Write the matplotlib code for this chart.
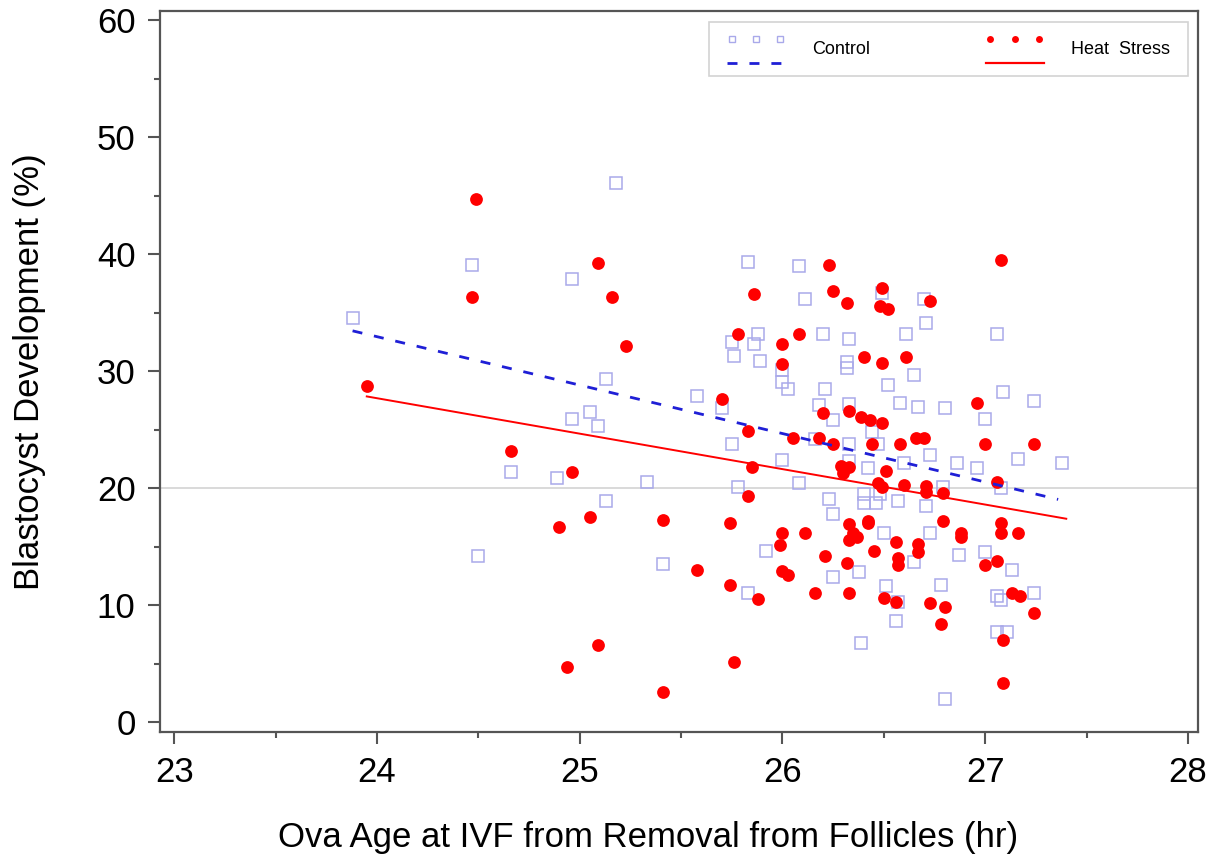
import numpy as np
import matplotlib
matplotlib.use("Agg")
import matplotlib.pyplot as plt
from matplotlib.lines import Line2D
from matplotlib.legend_handler import HandlerBase
from matplotlib.ticker import MultipleLocator

plt.rcParams['font.family'] = ['Liberation Sans', 'DejaVu Sans']

# Control (open squares)
ctrl_x = [23.88, 24.47, 24.50, 24.66, 24.89, 25.33, 25.13, 25.41, 24.96, 25.09,
          25.05, 25.13, 24.96, 25.18, 25.83, 26.08, 26.11, 26.49, 26.70, 26.71,
          26.61, 25.88, 25.75, 25.86, 26.20, 26.33, 25.76, 25.89, 26.00, 26.32,
          26.32, 26.65, 26.52, 26.00, 26.03, 26.21, 25.58, 25.70, 26.18, 26.33,
          26.58, 26.67, 26.80, 26.25, 26.44, 26.16, 26.33, 26.47, 25.75, 26.73,
          26.86, 26.00, 26.33, 26.42, 26.60, 25.78, 26.08, 26.79, 26.23, 26.40,
          26.40, 26.46, 26.48, 26.57, 26.71, 26.25, 26.50, 26.73, 25.92, 26.65,
          26.25, 26.38, 25.83, 26.51, 26.57, 26.56, 26.78, 26.39, 26.80, 26.87,
          27.06, 27.09, 27.24, 27.00, 26.96, 27.16, 27.38, 27.08, 27.00, 27.13,
          27.06, 27.08, 27.24, 27.06, 27.11]
ctrl_y = [34.5, 39.1, 14.2, 21.4, 20.9, 20.5, 18.9, 13.5, 25.9, 25.3,
          26.5, 29.3, 37.9, 46.1, 39.3, 39.0, 36.2, 36.7, 36.2, 34.1,
          33.2, 33.2, 32.5, 32.3, 33.2, 32.7, 31.3, 30.9, 30.1, 30.8,
          30.3, 29.7, 28.8, 29.1, 28.5, 28.5, 27.9, 26.8, 27.1, 27.2,
          27.3, 26.9, 26.8, 25.8, 24.8, 24.2, 23.8, 23.8, 23.8, 22.8,
          22.1, 22.4, 22.3, 21.7, 22.1, 20.1, 20.4, 20.1, 19.1, 19.5,
          18.7, 18.7, 19.5, 18.9, 18.5, 17.8, 16.2, 16.2, 14.6, 13.7,
          12.4, 12.8, 11.0, 11.6, 10.3, 8.6, 11.7, 6.8, 2.0, 14.3,
          33.2, 28.2, 27.4, 25.9, 21.7, 22.5, 22.1, 20.0, 14.5, 13.0,
          10.8, 10.4, 11.0, 7.7, 7.7]

# Heat stress (filled dots)
heat_x = [24.49, 25.09, 24.47, 25.16, 25.23, 23.95, 24.66, 24.96, 25.05, 24.90,
          25.41, 25.09, 24.94, 25.41, 26.23, 25.86, 26.25, 26.49, 26.32, 26.48,
          26.52, 26.73, 25.78, 26.00, 26.08, 26.00, 26.40, 26.49, 26.61, 25.70,
          26.20, 26.33, 26.39, 26.43, 26.49, 25.83, 26.05, 26.18, 26.25, 26.44,
          26.58, 26.66, 26.70, 25.85, 26.29, 26.33, 26.30, 26.51, 26.47, 26.49,
          26.60, 26.71, 26.71, 25.83, 26.79, 25.74, 26.79, 26.00, 26.11, 26.33,
          26.35, 26.37, 26.33, 26.42, 26.42, 25.99, 26.21, 26.45, 26.56, 26.67,
          26.67, 26.57, 26.57, 26.32, 25.58, 26.00, 26.03, 25.74, 25.88, 26.16,
          26.33, 26.50, 26.56, 26.73, 26.80, 26.78, 25.76, 26.88, 26.88, 27.08,
          26.96, 27.00, 27.24, 27.06, 27.08, 27.08, 27.16, 27.00, 27.06, 27.13,
          27.17, 27.24, 27.09, 27.09]
heat_y = [44.7, 39.2, 36.3, 36.3, 32.1, 28.7, 23.2, 21.4, 17.5, 16.7,
          17.3, 6.6, 4.7, 2.6, 39.1, 36.6, 36.8, 37.1, 35.8, 35.6,
          35.3, 36.0, 33.2, 32.3, 33.2, 30.6, 31.2, 30.7, 31.2, 27.6,
          26.4, 26.6, 26.1, 25.8, 25.6, 24.9, 24.3, 24.3, 23.8, 23.8,
          23.8, 24.3, 24.3, 21.8, 21.9, 21.8, 21.3, 21.5, 20.4, 20.1,
          20.3, 20.2, 19.7, 19.3, 19.6, 17.0, 17.2, 16.2, 16.2, 16.9,
          16.2, 15.8, 15.6, 17.2, 17.0, 15.1, 14.2, 14.6, 15.4, 15.2,
          14.5, 14.0, 13.4, 13.6, 13.0, 12.9, 12.6, 11.7, 10.5, 11.0,
          11.0, 10.6, 10.3, 10.2, 9.8, 8.4, 5.1, 16.2, 15.8, 39.5,
          27.3, 23.8, 23.8, 20.5, 17.0, 16.2, 16.2, 13.4, 13.8, 11.0,
          10.8, 9.3, 7.0, 3.3]

# fitted lines: intercept, slope, x range
ctrl_fit = (132.3, -4.14)
ctrl_range = [23.88, 27.36]
heat_fit = (100.4, -3.03)
heat_range = [23.95, 27.40]

ref_level = 20

sq_color = '#a9a9ea'
dot_color = '#ff0000'
ctrl_line_color = '#1f1fd6'


class StackedHandler(HandlerBase):
    # markers on top, line underneath, like the SAS legend
    def create_artists(self, legend, orig_handle, xdescent, ydescent,
                       width, height, fontsize, trans):
        mk, ln = orig_handle
        x0 = -xdescent
        xs = np.linspace(x0 + width * 0.08, x0 + width * 0.92, 3)
        top = Line2D(xs, [height * 1.05 - ydescent] * 3, ls='none',
                     marker=mk.get_marker(), ms=mk.get_markersize(),
                     mfc=mk.get_markerfacecolor(), mec=mk.get_markeredgecolor(),
                     mew=mk.get_markeredgewidth(), transform=trans)
        bot = Line2D([x0, x0 + width], [-ydescent - height * 0.45] * 2,
                     color=ln.get_color(), lw=ln.get_linewidth(),
                     transform=trans)
        if ln.get_linestyle() == '--':
            bot.set_dashes((3.6, 4.3))
        return [top, bot]


fig = plt.figure(figsize=(12.22, 8.61), dpi=100)
ax = fig.add_axes([0.1309, 0.1498, 0.8495, 0.8374])

ax.axhline(ref_level, color='#d9d9d9', lw=1.4, zorder=1)

ax.plot(ctrl_x, ctrl_y, ls='none', marker='s', ms=8.6, mfc='none',
        mec=sq_color, mew=1.1, zorder=2)
ax.plot(heat_x, heat_y, ls='none', marker='o', ms=9.2, mfc=dot_color,
        mec=dot_color, mew=0, zorder=3)

cx = np.array(ctrl_range)
hx = np.array(heat_range)
ax.plot(cx, ctrl_fit[0] + ctrl_fit[1] * cx, color=ctrl_line_color, lw=2.0,
        dashes=(3.6, 4.3), zorder=4)
ax.plot(hx, heat_fit[0] + heat_fit[1] * hx, color=dot_color, lw=1.4, zorder=4)

ax.set_xlim(22.93, 28.05)
ax.set_ylim(-0.85, 60.77)
ax.xaxis.set_major_locator(MultipleLocator(1))
ax.xaxis.set_minor_locator(MultipleLocator(0.5))
ax.yaxis.set_major_locator(MultipleLocator(10))
ax.yaxis.set_minor_locator(MultipleLocator(5))

for s in ax.spines.values():
    s.set_color('#555555')
    s.set_linewidth(1.6)
ax.tick_params(which='major', direction='out', length=8.6, width=1.5,
               color='#555555', labelsize=25, pad=9)
ax.tick_params(which='minor', direction='out', length=4.3, width=1.5,
               color='#555555')

ax.set_xlabel('Ova Age at IVF from Removal from Follicles (hr)', fontsize=25)
ax.set_ylabel('Blastocyst Development (%)', fontsize=25)
ax.xaxis.set_label_coords(0.47, -0.123)
ax.yaxis.set_label_coords(-0.11, 0.5)

h_ctrl = (Line2D([], [], ls='none', marker='s', ms=4, mfc='none', mec=sq_color, mew=1.0),
          Line2D([], [], color=ctrl_line_color, lw=2.0, ls='--'))
h_heat = (Line2D([], [], ls='none', marker='o', ms=5, mfc=dot_color, mec=dot_color, mew=0),
          Line2D([], [], color=dot_color, lw=1.6, ls='-'))
leg = ax.legend([h_ctrl, h_heat], ['Control', 'Heat  Stress'], ncol=2,
                handler_map={tuple: StackedHandler()},
                loc='upper left', bbox_to_anchor=(0.529, 0.985, 0.461, 0.0),
                mode='expand', fontsize=13, handlelength=3.2, handleheight=1.0,
                handletextpad=1.5, borderpad=1.0, columnspacing=6,
                frameon=True, fancybox=False, borderaxespad=0)
leg.get_frame().set_edgecolor('#c8c8c8')
leg.get_frame().set_linewidth(1.2)

fig.savefig('out.png', dpi=100, facecolor='white')
